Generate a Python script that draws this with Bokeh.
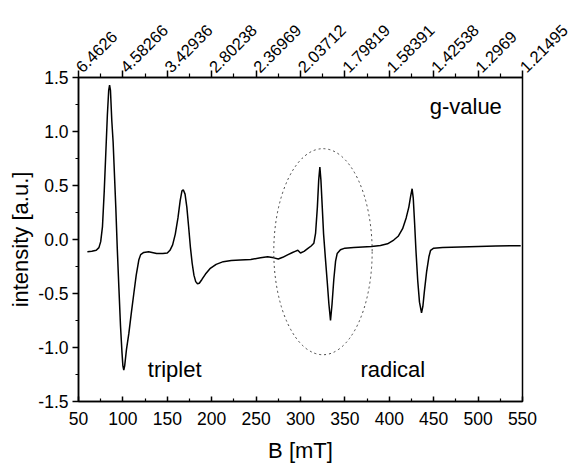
import math
from bokeh.plotting import figure
from bokeh.models import Range1d, LinearAxis, FixedTicker, PrintfTickFormatter
from bokeh.core.properties import value
from bokeh.embed import file_html
from bokeh.resources import INLINE

# ---- data ----
field_mT = [60, 65, 70, 73, 75, 77, 79, 80.5, 82.5, 84, 85, 86, 87.5, 89, 90, 92, 93.6, 95.5, 97.3,
            99, 100, 101, 102, 104, 106.7, 109.5, 112.3, 115, 117.9, 120, 123.5, 129, 138, 145, 150,
            153, 156, 159, 162, 164.5, 166.5, 168, 170, 172, 174, 176, 178, 180, 182, 184, 186, 189,
            193, 198, 205, 213, 222, 232, 244, 255, 263, 270, 275, 280, 286, 291, 294, 297, 300, 304,
            308, 312, 315, 317, 319, 320.5, 321.8, 323, 324.5, 326, 328, 330, 332, 333.8, 335.5, 337.5,
            339.5, 341.3, 345, 350, 360, 370, 380, 390, 398, 405, 410, 415, 419, 422, 424, 425.7, 427,
            428.5, 430, 432, 434, 436.3, 437.8, 439.5, 442, 444.6, 446.5, 450, 460, 480, 500, 520, 548]
intensity = [-0.113, -0.108, -0.10, -0.075, -0.02, 0.12, 0.45, 0.75, 1.15, 1.38, 1.43, 1.38, 1.10, 0.90,
             0.70, 0.30, -0.07, -0.45, -0.80, -1.05, -1.17, -1.21, -1.17, -1.02, -0.87, -0.68, -0.50,
             -0.33, -0.19, -0.14, -0.12, -0.113, -0.13, -0.13, -0.125, -0.10, -0.05, 0.05, 0.20, 0.36,
             0.45, 0.46, 0.42, 0.30, 0.12, -0.07, -0.22, -0.33, -0.39, -0.41, -0.405, -0.37, -0.32,
             -0.27, -0.23, -0.205, -0.195, -0.19, -0.185, -0.17, -0.16, -0.17, -0.18, -0.165, -0.14,
             -0.12, -0.11, -0.10, -0.125, -0.11, -0.085, -0.06, -0.035, 0.06, 0.30, 0.55, 0.67, 0.55,
             0.30, 0.05, -0.17, -0.38, -0.60, -0.75, -0.60, -0.37, -0.20, -0.13, -0.095, -0.08, -0.075,
             -0.07, -0.065, -0.055, -0.04, -0.005, 0.03, 0.10, 0.20, 0.30, 0.40, 0.47, 0.38, 0.15,
             -0.10, -0.38, -0.58, -0.68, -0.62, -0.48, -0.30, -0.16, -0.10, -0.08, -0.075, -0.07,
             -0.065, -0.06, -0.057]

x_ticks = [50, 100, 150, 200, 250, 300, 350, 400, 450, 500, 550]
x_minor = [75, 125, 175, 225, 275, 325, 375, 425, 475, 525]
y_ticks = [-1.5, -1.0, -0.5, 0.0, 0.5, 1.0, 1.5]
y_minor = [-1.25, -0.75, -0.25, 0.25, 0.75, 1.25]
g_labels = ["6.4626", "4.58266", "3.42936", "2.80238", "2.36969", "2.03712",
            "1.79819", "1.58391", "1.42538", "1.2969", "1.21495"]

ann_text = ["triplet", "radical", "g-value"]
ann_x = [128, 367.5, 445.5]
ann_y = [-1.205, -1.205, 1.228]

ring_x = [325.3]
ring_y = [-0.113]
ring_w = [110.8]
ring_h = [1.908]

FONT = "Liberation Sans"

p = figure(width=570, height=465, x_range=Range1d(50, 550), y_range=Range1d(-1.5, 1.5),
           output_backend="svg", toolbar_location=None,
           min_border_left=78, min_border_right=48, min_border_top=77, min_border_bottom=63)
p.background_fill_color = "white"
p.border_fill_color = "white"
p.xgrid.visible = False
p.ygrid.visible = False
p.outline_line_color = "black"
p.outline_line_width = 1.5

# bottom axis
xa = p.xaxis[0]
xa.ticker = FixedTicker(ticks=x_ticks, minor_ticks=x_minor)
xa.major_tick_in = 5
xa.major_tick_out = 0
xa.minor_tick_in = 3
xa.minor_tick_out = 0
xa.axis_label = "B [mT]"

# left axis
ya = p.yaxis[0]
ya.ticker = FixedTicker(ticks=y_ticks, minor_ticks=y_minor)
ya.formatter = PrintfTickFormatter(format="%.1f")
ya.major_tick_in = 0
ya.major_tick_out = 6
ya.minor_tick_in = 0
ya.minor_tick_out = 3
ya.axis_label = "intensity [a.u.]"

# top axis (g-value)
top = LinearAxis(ticker=FixedTicker(ticks=x_ticks, minor_ticks=x_minor),
                 major_label_overrides={t: g for t, g in zip(x_ticks, g_labels)},
                 major_label_orientation=math.pi / 4)
top.major_tick_in = 0
top.major_tick_out = 7
top.minor_tick_in = 0
top.minor_tick_out = 4
p.add_layout(top, "above")

for ax in [xa, ya, top]:
    ax.axis_line_color = "black"
    ax.axis_line_width = 1.5
    ax.major_tick_line_color = "black"
    ax.major_tick_line_width = 1.5
    ax.minor_tick_line_color = "black"
    ax.minor_tick_line_width = 1.2
    ax.major_label_text_font = FONT
    ax.major_label_text_font_size = "17.5px"
    ax.major_label_text_color = "black"
    ax.axis_label_text_font = FONT
    ax.axis_label_text_font_size = "22px"
    ax.axis_label_text_font_style = "normal"
    ax.axis_label_text_color = "black"

top.major_label_text_font_size = "16.5px"
xa.major_label_standoff = 10
xa.axis_label_standoff = 10
xa.axis_label_text_line_height = 0.8
ya.major_label_standoff = 4
ya.axis_label_standoff = 2
top.major_label_standoff = 1

p.line(field_mT, intensity, line_color="black", line_width=1.5)
p.ellipse(x=ring_x, y=ring_y, width=ring_w, height=ring_h, fill_color=None,
          line_color="#444444", line_width=1, line_dash="2 3")
p.text(x=ann_x, y=ann_y, text=ann_text, text_font=value(FONT), text_font_size="22px",
       text_color="black", text_baseline="alphabetic", text_align="left")

open("out.html", "w").write(file_html(p, INLINE))
